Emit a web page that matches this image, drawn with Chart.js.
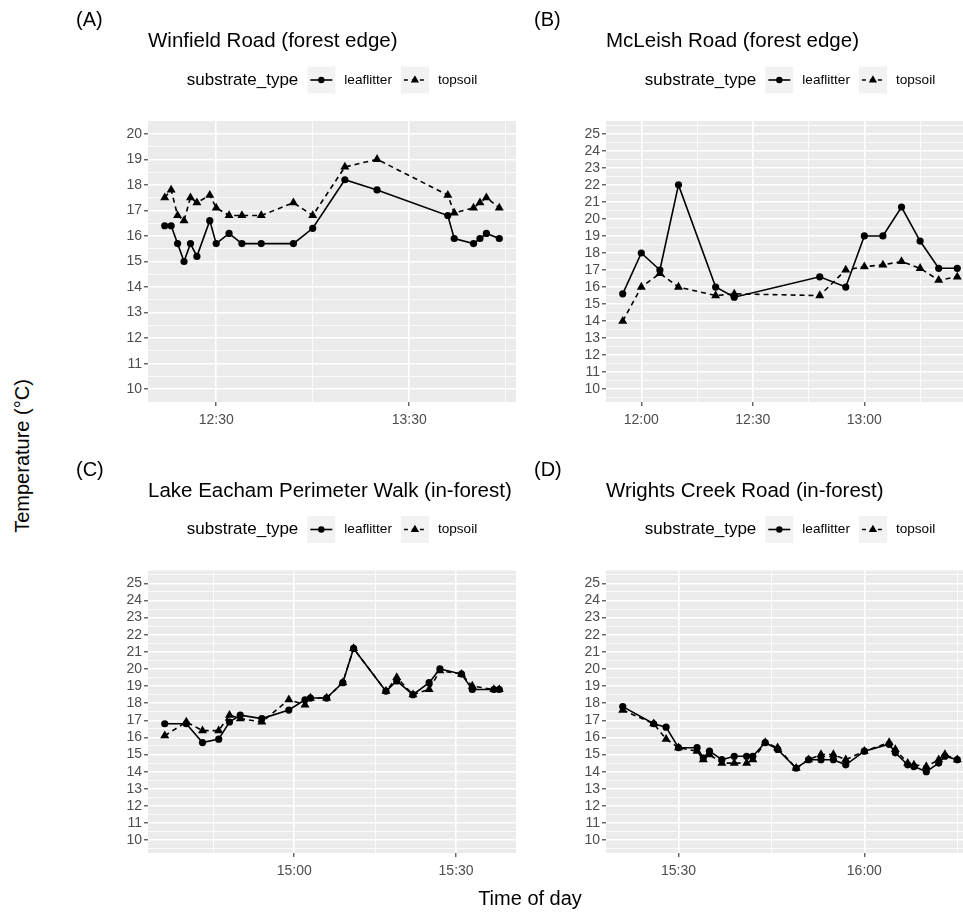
<!DOCTYPE html>
<html>
<head>
<meta charset="utf-8">
<script src="https://cdn.jsdelivr.net/npm/chart.js@4.4.1/dist/chart.umd.min.js"></script>
<style>
  html, body { margin: 0; padding: 0; background: #fff; overflow: hidden; }
  #page { position: relative; width: 963px; height: 912px; overflow: hidden; background: #fff;
          font-family: "Liberation Sans", Arial, sans-serif; color: #000; }
  .panel { position: absolute; }
  .panel canvas { display: block; }
  #ytitle { position: absolute; left: 22px; top: 456px; transform: translate(-50%, -50%) rotate(-90deg);
            font-size: 20px; white-space: nowrap; }
  #xtitle { position: absolute; left: 530px; top: 898px; transform: translate(-50%, -50%);
            font-size: 20px; white-space: nowrap; }
</style>
</head>
<body>
<div id="page">
  <div class="panel" style="left:40px;top:0px"><canvas id="cA" width="490" height="440"></canvas></div>
  <div class="panel" style="left:498px;top:0px"><canvas id="cB" width="490" height="440"></canvas></div>
  <div class="panel" style="left:40px;top:450px"><canvas id="cC" width="490" height="441"></canvas></div>
  <div class="panel" style="left:498px;top:450px"><canvas id="cD" width="490" height="441"></canvas></div>
  <div id="ytitle">Temperature (°C)</div>
  <div id="xtitle">Time of day</div>
</div>
<script>
// ---- Winfield Road (forest edge) ----
const timesA = ['12:14','12:16','12:18','12:20','12:22','12:24','12:28','12:30','12:34','12:38','12:44',
                '12:54','13:00','13:10','13:20','13:42','13:44','13:50','13:52','13:54','13:58'];
const leafA  = [16.4,16.4,15.7,15.0,15.7,15.2,16.6,15.7,16.1,15.7,15.7,15.7,16.3,18.2,17.8,16.8,15.9,15.7,15.9,16.1,15.9];
const topA   = [17.5,17.8,16.8,16.6,17.5,17.3,17.6,17.1,16.8,16.8,16.8,17.3,16.8,18.7,19.0,17.6,16.9,17.1,17.3,17.5,17.1];
const xTicksA = ['12:30','13:30'];
const yTicksA = ['10','11','12','13','14','15','16','17','18','19','20'];

// ---- McLeish Road (forest edge) ----
const timesB = ['11:55','12:00','12:05','12:10','12:20','12:25','12:48','12:55','13:00','13:05','13:10','13:15','13:20','13:25'];
const leafB  = [15.6,18.0,17.0,22.0,16.0,15.4,16.6,16.0,19.0,19.0,20.7,18.7,17.1,17.1];
const topB   = [14.0,16.0,16.8,16.0,15.5,15.6,15.5,17.0,17.2,17.3,17.5,17.1,16.4,16.6];
const xTicksB = ['12:00','12:30','13:00'];
const yTicksB = ['10','11','12','13','14','15','16','17','18','19','20','21','22','23','24','25'];

// ---- Lake Eacham Perimeter Walk (in-forest) ----
const timesC = ['14:36','14:40','14:43','14:46','14:48','14:50','14:54','14:59','15:02','15:03','15:06',
                '15:09','15:11','15:17','15:19','15:22','15:25','15:27','15:31','15:33','15:37','15:38'];
const leafC  = [16.8,16.8,15.7,15.9,16.9,17.3,17.1,17.6,18.2,18.3,18.3,19.2,21.2,18.7,19.3,18.5,19.2,20.0,19.7,18.8,18.8,18.8];
const topC   = [16.1,16.9,16.4,16.4,17.3,17.1,16.9,18.2,17.9,18.3,18.3,19.2,21.2,18.7,19.5,18.5,18.8,19.9,19.7,19.0,18.8,18.8];
const xTicksC = ['15:00','15:30'];
const yTicksC = yTicksB;

// ---- Wrights Creek Road (in-forest) ----
const timesD = ['15:21','15:26','15:28','15:30','15:33','15:34','15:35','15:37','15:39','15:41','15:42','15:44','15:46',
                '15:49','15:51','15:53','15:55','15:57','16:00','16:04','16:05','16:07','16:08','16:10','16:12','16:13','16:15'];
const leafD  = [17.8,16.8,16.6,15.4,15.4,14.8,15.2,14.7,14.9,14.9,14.9,15.7,15.3,14.2,14.7,14.7,14.7,14.4,15.2,15.6,15.1,14.4,14.3,14.0,14.5,14.9,14.7];
const topD   = [17.6,16.8,15.9,15.4,15.2,14.7,15.0,14.5,14.5,14.5,14.7,15.7,15.4,14.2,14.7,15.0,15.0,14.7,15.2,15.7,15.3,14.5,14.4,14.3,14.7,15.0,14.7];
const xTicksD = ['15:30','16:00'];
const yTicksD = yTicksB;

const legendTitle = 'substrate_type';
const seriesNames = ['leaflitter', 'topsoil'];

const FONT = '"Liberation Sans", Arial, Helvetica, sans-serif';

function toMin(s) { const p = s.split(':').map(Number); return p[0] * 60 + p[1]; }

// ggplot-style continuous expansion: 5% on each side
function expand(lo, hi) { const d = (hi - lo) * 0.05; return [lo - d, hi + d]; }

// major breaks plus minor breaks halfway between them, kept inside (lo, hi)
function breaksWithMinor(majors, lo, hi) {
  const step = majors.length > 1 ? majors[1] - majors[0] : 1;
  const out = [];
  for (let v = majors[0] - step; v <= majors[majors.length - 1] + step + 1e-9; v += step / 2) {
    if (v > lo + 1e-6 && v < hi - 1e-6) out.push(Math.round(v * 1000) / 1000);
  }
  return out;
}

// draws the grey panel, the tag, the title and the top legend
const panelDecor = {
  id: 'panelDecor',
  beforeDraw(chart) {
    const { ctx, chartArea: a } = chart;
    ctx.save();
    ctx.fillStyle = '#EBEBEB';
    ctx.fillRect(a.left, a.top, a.right - a.left, a.bottom - a.top);
    ctx.restore();
  },
  afterDraw(chart, args, opts) {
    const { ctx, chartArea: a } = chart;
    ctx.save();
    ctx.fillStyle = '#000';
    ctx.textAlign = 'left';
    ctx.textBaseline = 'alphabetic';
    ctx.font = '20px ' + FONT;
    ctx.fillText(opts.tag, a.left - 72, a.top - 95);
    ctx.font = '20.5px ' + FONT;
    ctx.fillText(opts.title, a.left, a.top - 74);

    // legend
    const cy = a.top - 41;
    const keyW = 28, keyH = 27, gap = 9;
    ctx.font = '17px ' + FONT;
    const tW = ctx.measureText(legendTitle).width;
    ctx.font = '13.6px ' + FONT;
    const l1 = ctx.measureText(seriesNames[0]).width;
    const l2 = ctx.measureText(seriesNames[1]).width;
    const total = tW + gap + keyW + gap + l1 + gap + keyW + gap + l2;
    let x = (a.left + a.right) / 2 - total / 2;
    ctx.textBaseline = 'middle';
    ctx.font = '17px ' + FONT;
    ctx.fillText(legendTitle, x, cy);
    x += tW + gap;

    const drawKey = (kx, dashed) => {
      ctx.fillStyle = '#F2F2F2';
      ctx.fillRect(kx, cy - keyH / 2, keyW, keyH);
      ctx.strokeStyle = '#000';
      ctx.lineWidth = 1.6;
      ctx.setLineDash(dashed ? [4, 4] : []);
      ctx.beginPath();
      ctx.moveTo(kx + 3, cy);
      ctx.lineTo(kx + keyW - 3, cy);
      ctx.stroke();
      ctx.setLineDash([]);
      ctx.fillStyle = '#000';
      ctx.beginPath();
      if (dashed) {
        const r = 4.8, mx = kx + keyW / 2;
        ctx.moveTo(mx, cy - r);
        ctx.lineTo(mx + r * 0.866, cy + r * 0.5);
        ctx.lineTo(mx - r * 0.866, cy + r * 0.5);
        ctx.closePath();
      } else {
        ctx.arc(kx + keyW / 2, cy, 3.2, 0, Math.PI * 2);
      }
      ctx.fill();
    };

    drawKey(x, false);
    x += keyW + gap;
    ctx.fillStyle = '#000';
    ctx.font = '13.6px ' + FONT;
    ctx.fillText(seriesNames[0], x, cy);
    x += l1 + gap;
    drawKey(x, true);
    x += keyW + gap;
    ctx.fillStyle = '#000';
    ctx.font = '13.6px ' + FONT;
    ctx.fillText(seriesNames[1], x, cy);
    ctx.restore();
  }
};

function makePanel(id, tag, title, times, leaf, top, xTickLabels, yTickLabels) {
  const xs = times.map(toMin);
  const [xMin, xMax] = expand(Math.min(...xs), Math.max(...xs));
  const yMajor = yTickLabels.map(Number);
  const [yMin, yMax] = expand(yMajor[0], yMajor[yMajor.length - 1]);
  const xMajor = xTickLabels.map(toMin);
  const xBreaks = breaksWithMinor(xMajor, xMin, xMax);
  const yBreaks = breaksWithMinor(yMajor, yMin, yMax);
  const isXMajor = v => xMajor.some(m => Math.abs(m - v) < 1e-6);
  const isYMajor = v => yMajor.some(m => Math.abs(m - v) < 1e-6);

  const leafPts = xs.map((x, i) => ({ x, y: leaf[i] }));
  const topPts = xs.map((x, i) => ({ x, y: top[i] }));

  new Chart(document.getElementById(id), {
    type: 'line',
    data: {
      datasets: [
        {
          label: seriesNames[1], data: topPts,
          borderColor: '#000', borderWidth: 1.6, borderDash: [5, 4],
          pointStyle: 'triangle', pointRadius: 5.2, pointBackgroundColor: '#000',
          pointBorderWidth: 0, pointHoverRadius: 5.2, tension: 0, fill: false
        },
        {
          label: seriesNames[0], data: leafPts,
          borderColor: '#000', borderWidth: 1.6,
          pointStyle: 'circle', pointRadius: 3.6, pointBackgroundColor: '#000',
          pointBorderWidth: 0, pointHoverRadius: 3.6, tension: 0, fill: false
        }
      ]
    },
    options: {
      responsive: false,
      animation: false,
      events: [],
      layout: { padding: { top: id === 'cC' || id === 'cD' ? 120.5 : 121, right: 14, bottom: 0, left: 0 } },
      plugins: {
        legend: { display: false },
        tooltip: { enabled: false },
        title: { display: false },
        panelDecor: { tag, title }
      },
      scales: {
        x: {
          type: 'linear', min: xMin, max: xMax,
          afterBuildTicks: s => { s.ticks = xBreaks.map(v => ({ value: v })); },
          afterFit: s => { s.height = 38; },
          border: { display: false },
          grid: {
            color: '#FFFFFF',
            lineWidth: c => (c.tick && isXMajor(c.tick.value)) ? 1.6 : 0.8,
            tickColor: c => (c.tick && isXMajor(c.tick.value)) ? '#333333' : 'rgba(0,0,0,0)',
            tickLength: 4, tickWidth: 1.1
          },
          ticks: {
            autoSkip: false, maxRotation: 0, minRotation: 0, padding: 6,
            color: '#4D4D4D', font: { family: FONT, size: 14 },
            callback: v => { const i = xMajor.findIndex(m => Math.abs(m - v) < 1e-6); return i >= 0 ? xTickLabels[i] : ''; }
          }
        },
        y: {
          type: 'linear', min: yMin, max: yMax,
          afterBuildTicks: s => { s.ticks = yBreaks.map(v => ({ value: v })); },
          afterFit: s => { s.width = 108; },
          border: { display: false },
          grid: {
            color: '#FFFFFF',
            lineWidth: c => (c.tick && isYMajor(c.tick.value)) ? 1.6 : 0.8,
            tickColor: c => (c.tick && isYMajor(c.tick.value)) ? '#333333' : 'rgba(0,0,0,0)',
            tickLength: 4, tickWidth: 1.1
          },
          ticks: {
            autoSkip: false, padding: 2,
            color: '#4D4D4D', font: { family: FONT, size: 14 },
            callback: v => { const i = yMajor.findIndex(m => Math.abs(m - v) < 1e-6); return i >= 0 ? yTickLabels[i] : ''; }
          }
        }
      }
    },
    plugins: [panelDecor]
  });
}

makePanel('cA', '(A)', 'Winfield Road (forest edge)', timesA, leafA, topA, xTicksA, yTicksA);
makePanel('cB', '(B)', 'McLeish Road (forest edge)', timesB, leafB, topB, xTicksB, yTicksB);
makePanel('cC', '(C)', 'Lake Eacham Perimeter Walk (in-forest)', timesC, leafC, topC, xTicksC, yTicksC);
makePanel('cD', '(D)', 'Wrights Creek Road (in-forest)', timesD, leafD, topD, xTicksD, yTicksD);
</script>
</body>
</html>
